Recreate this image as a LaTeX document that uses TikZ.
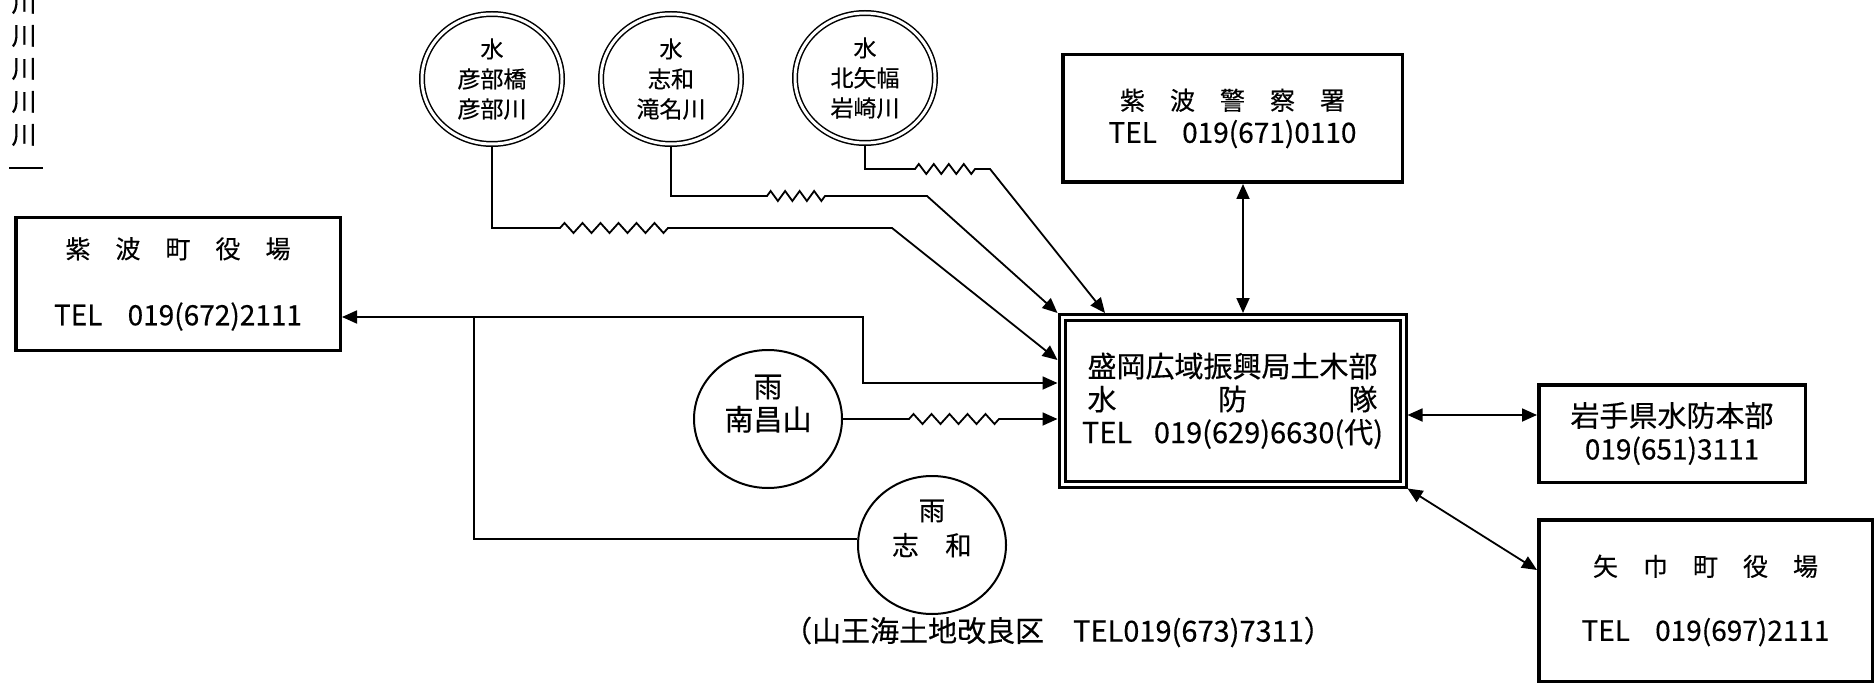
\documentclass[tikz,border=0pt]{standalone}
\usepackage{fontspec}
\setmainfont{Noto Sans CJK JP}[FakeBold=0.4]
\usetikzlibrary{arrows.meta,shapes.geometric,decorations.pathmorphing}
\newcommand\myfs[2]{\fontsize{#1pt}{#2pt}\selectfont}
\begin{document}
\begin{tikzpicture}[x=1pt,y=-1pt,
  wire/.style={line width=1.8pt},
  tip/.style={-{Triangle[length=15pt,width=13pt]}},
  tips/.style={{Triangle[length=15pt,width=13pt]}-{Triangle[length=15pt,width=13pt]}},
  boxnode/.style={draw, line width=3.5pt, rectangle, inner sep=0pt, align=center},
  water/.style={ellipse, draw, double, line width=1.5pt, double distance=3pt, inner sep=0pt,
    outer sep=3pt, align=center, minimum width=140pt, minimum height=130pt, font=\myfs{23}{30}},
  rain/.style={ellipse, draw, line width=2pt, inner sep=0pt, align=center,
    minimum width=148pt, minimum height=138pt},
  zig/.style={decoration={zigzag, amplitude=5pt, segment length=#1}},
]
\fill[white] (0,0) rectangle (1876,687);
\useasboundingbox (0,0) rectangle (1876,687);

% left column fragment
\node[font=\myfs{25}{33}, align=center, inner sep=0pt] (kawa) at (24,69) {川\\川\\川\\川\\川};
\draw[line width=2pt] (9,168) -- (43,168);

% water gauges
\node[water] (w1) at (492,79) {水\\彦部橋\\彦部川};
\node[water] (w2) at (671,79) {水\\志和\\滝名川};
\node[water] (w3) at (865,78) {水\\北矢幅\\岩崎川};

% rain gauges
\node[rain, font=\myfs{29}{33}] (r1) at (768,419) {雨\\南昌山\\\mbox{}};
\node[rain, font=\myfs{26.5}{35}] (r2) at (932,545) {雨\\志　和\\\mbox{}};

% boxes
\node[boxnode, minimum width=324.5pt, minimum height=132.5pt, font=\myfs{25}{67}] (town) at (178,284)
  {紫　波　町　役　場\\\myfs{28}{67}TEL\hspace{0.9em}019(672)2111};
\node[boxnode, minimum width=339.5pt, minimum height=127.5pt, font=\myfs{25}{33}] (police) at (1232.5,118.5)
  {紫　波　警　察　署\\\myfs{28}{33}TEL\hspace{0.9em}019(671)0110};
\node[draw, double, line width=3pt, double distance=3pt, outer sep=4.5pt, inner sep=0pt, align=center,
  minimum width=341pt, minimum height=166.5pt, font=\myfs{29}{33}] (hq) at (1232.5,400.75)
  {盛岡広域振興局土木部\\\makebox[10em]{水\hfill 防\hfill 隊}\\TEL\hspace{0.75em}019(629)6630(代)};
\node[boxnode, minimum width=266.5pt, minimum height=97.5pt, font=\myfs{29}{33}] (iwate) at (1672,433.5)
  {岩手県水防本部\\\myfs{28}{33}019(651)3111};
\node[boxnode, minimum width=333.5pt, minimum height=161.5pt, font=\myfs{25}{65}] (yahaba) at (1705.5,600.5)
  {矢　巾　町　役　場\\\myfs{28}{65}TEL\hspace{0.9em}019(697)2111};

\node[font=\myfs{29}{33}, inner sep=0pt] (note) at (1058,632) {（山王海土地改良区　TEL019(673)7311）};

% helper coordinates
\coordinate (a1) at (560,228); \coordinate (b1) at (668,228); \coordinate (k1) at (892,228); \coordinate (e1) at (0,360);
\coordinate (a2) at (767,196); \coordinate (b2) at (825,196); \coordinate (k2) at (927,196);
\coordinate (a3) at (915,169); \coordinate (b3) at (975,169); \coordinate (k3) at (990,169); \coordinate (e3) at (1105,0);
\coordinate (j0) at (474,317); \coordinate (k4) at (863,317); \coordinate (e4) at (0,383); \coordinate (j2) at (0,539);
\coordinate (a5) at (909,419); \coordinate (b5) at (999,419);
\coordinate (c6) at (1243,0); \coordinate (c7) at (0,415); \coordinate (c8) at (0,570);

% connectors
\draw[wire, tip] (w1.south) |- (a1) decorate[zig=18pt]{-- (b1)} -- (k1) -- (hq.west |- e1);
\draw[wire, tip] (w2.south) |- (a2) decorate[zig=14.5pt]{-- (b2)} -- (k2) -- (hq.north west);
\draw[wire, tip] (w3.south) |- (a3) decorate[zig=15pt]{-- (b3)} -- (k3) -- (e3 |- hq.north);
\draw[wire, tips] (town.east |- j0) -- (k4) |- (hq.west |- e4);
\draw[wire] (j0) |- (r2.west |- j2);
\draw[wire, tip] (r1.east) -- (a5) decorate[zig=18pt]{-- (b5)} -- (hq.west |- r1.east);
\draw[wire, tips] (police.south -| c6) -- (hq.north -| c6);
\draw[wire, tips] (hq.east |- c7) -- (iwate.west |- c7);
\draw[wire, tips] (hq.south east) -- (yahaba.west |- c8);
\end{tikzpicture}
\end{document}
